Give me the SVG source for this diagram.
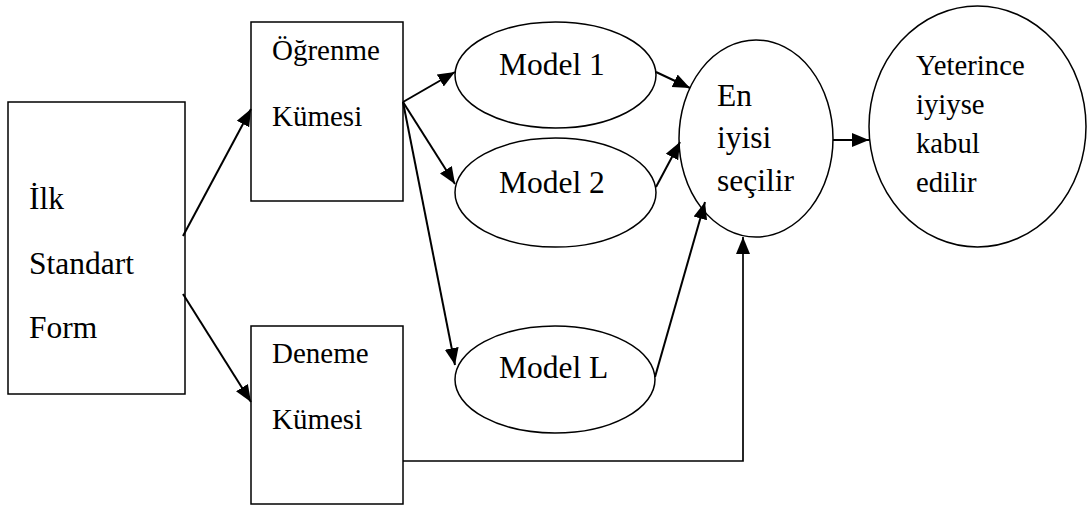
<svg xmlns="http://www.w3.org/2000/svg" width="1089" height="506" viewBox="0 0 1089 506">
  <defs>
    <marker id="arrow" markerUnits="userSpaceOnUse" markerWidth="18" markerHeight="16" refX="17" refY="8" orient="auto">
      <path d="M0,1 L17,8 L0,15 z" fill="#000"/>
    </marker>
  </defs>
  <rect width="1089" height="506" fill="#fff"/>

  <g id="node-ilk-standart-form">
    <rect x="8" y="102" width="177" height="292" fill="#fff" stroke="#000" stroke-width="1.5"/>
    <text x="29" y="209" font-family="Liberation Serif, serif" font-size="31.5">İlk</text>
    <text x="29" y="274" font-family="Liberation Serif, serif" font-size="31.5">Standart</text>
    <text x="29" y="338" font-family="Liberation Serif, serif" font-size="31.5">Form</text>
  </g>

  <g id="node-ogrenme-kumesi">
    <rect x="251" y="22" width="152" height="179" fill="#fff" stroke="#000" stroke-width="1.5"/>
    <text x="272" y="60" font-family="Liberation Serif, serif" font-size="29">Öğrenme</text>
    <text x="272" y="126" font-family="Liberation Serif, serif" font-size="29">Kümesi</text>
  </g>

  <g id="node-deneme-kumesi">
    <rect x="251" y="326" width="152" height="178" fill="#fff" stroke="#000" stroke-width="1.5"/>
    <text x="272" y="363" font-family="Liberation Serif, serif" font-size="29">Deneme</text>
    <text x="272" y="429" font-family="Liberation Serif, serif" font-size="29">Kümesi</text>
  </g>

  <g id="node-model-1">
    <ellipse cx="555.5" cy="75" rx="100.5" ry="53" fill="#fff" stroke="#000" stroke-width="1.5"/>
    <text x="499" y="75" font-family="Liberation Serif, serif" font-size="31.5">Model 1</text>
  </g>

  <g id="node-model-2">
    <ellipse cx="555.5" cy="192.5" rx="100.5" ry="54.5" fill="#fff" stroke="#000" stroke-width="1.5"/>
    <text x="499" y="193" font-family="Liberation Serif, serif" font-size="31.5">Model 2</text>
  </g>

  <g id="node-model-l">
    <ellipse cx="555" cy="379.5" rx="100" ry="53.5" fill="#fff" stroke="#000" stroke-width="1.5"/>
    <text x="499" y="378" font-family="Liberation Serif, serif" font-size="31.5">Model L</text>
  </g>

  <g id="node-en-iyisi">
    <ellipse cx="756" cy="138.5" rx="77" ry="98.5" fill="#fff" stroke="#000" stroke-width="1.5"/>
    <text x="717" y="106" font-family="Liberation Serif, serif" font-size="31.5">En</text>
    <text x="717" y="148" font-family="Liberation Serif, serif" font-size="31.5">iyisi</text>
    <text x="717" y="191" font-family="Liberation Serif, serif" font-size="31.5">seçilir</text>
  </g>

  <g id="node-yeterince">
    <ellipse cx="977.5" cy="126.5" rx="108.5" ry="120.5" fill="#fff" stroke="#000" stroke-width="1.5"/>
    <text x="916" y="75" font-family="Liberation Serif, serif" font-size="28.7">Yeterince</text>
    <text x="916" y="114" font-family="Liberation Serif, serif" font-size="28.7">iyiyse</text>
    <text x="916" y="153" font-family="Liberation Serif, serif" font-size="28.7">kabul</text>
    <text x="916" y="192" font-family="Liberation Serif, serif" font-size="28.7">edilir</text>
  </g>

  <g id="connectors" fill="none" stroke="#000" stroke-width="2">
    <line x1="183" y1="236" x2="251" y2="109" marker-end="url(#arrow)"/>
    <line x1="183" y1="294" x2="251" y2="402" marker-end="url(#arrow)"/>
    <line x1="403" y1="102" x2="455" y2="72" marker-end="url(#arrow)"/>
    <line x1="403" y1="102" x2="455" y2="184" marker-end="url(#arrow)"/>
    <line x1="403" y1="102" x2="455" y2="365" marker-end="url(#arrow)"/>
    <line x1="656" y1="72" x2="690" y2="88" marker-end="url(#arrow)"/>
    <line x1="656" y1="187" x2="680" y2="142" marker-end="url(#arrow)"/>
    <line x1="655" y1="377" x2="705" y2="202" marker-end="url(#arrow)"/>
    <line x1="833" y1="140" x2="869" y2="140" marker-end="url(#arrow)"/>
    <polyline points="403,461 743,461 743,237" stroke-width="1.7" marker-end="url(#arrow)"/>
  </g>
</svg>
